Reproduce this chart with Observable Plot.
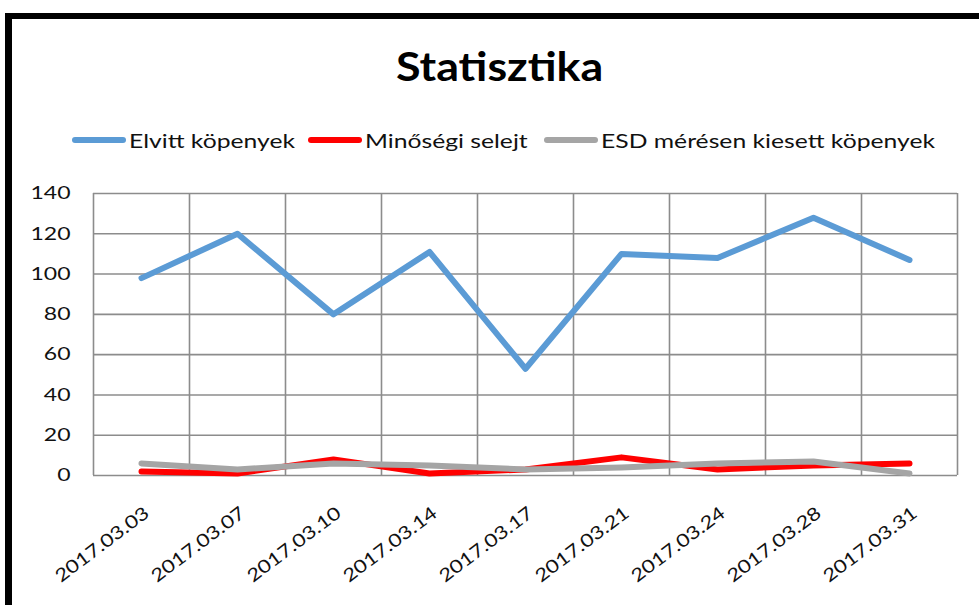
<!DOCTYPE html>
<html>
<head>
<meta charset="utf-8">
<script src="https://cdn.jsdelivr.net/npm/d3@7"></script>
<script src="https://cdn.jsdelivr.net/npm/@observablehq/plot@0.6"></script>
<style>
  html, body { margin: 0; padding: 0; background: #fff; width: 979px; height: 605px; overflow: hidden; font-family: Lato, "Open Sans", sans-serif; }
  #frame { position: absolute; left: 5px; top: 13px; width: 1100px; height: 700px; border-left: 7px solid #000; border-top: 6px solid #000; }
  #title { position: absolute; left: 0; width: 1000px; top: 42px; text-align: center; font-weight: bold; font-size: 40px; color: #000; }
  #title span { display: inline-block; transform: scaleX(1.12); }
  .leg { position: absolute; top: 128px; height: 24px; display: flex; align-items: center; font-size: 19px; color: #111; white-space: nowrap; }
  .leg .sw { width: 54px; height: 6px; border-radius: 3px; margin-right: 3px; }
  .leg .tx { display: inline-block; transform-origin: left center; transform: scaleX(1.3); }
  #plot { position: absolute; left: 0; top: 170px; }
</style>
</head>
<body>
<div id="frame"></div>
<div id="title"><span>Statisztika</span></div>
<div id="legend"></div>
<div id="plot"></div>
<script>
const dates = ["2017.03.03","2017.03.07","2017.03.10","2017.03.14","2017.03.17","2017.03.21","2017.03.24","2017.03.28","2017.03.31"];
const seriesNames = ["Elvitt köpenyek","Minőségi selejt","ESD mérésen kiesett köpenyek"];
const seriesColors = ["#5B9BD5","#FF0000","#A5A5A5"];
const elvitt = [98, 120, 80, 111, 53, 110, 108, 128, 107];
const selejt = [2, 1, 8, 1, 3, 9, 3, 5, 6];
const esd    = [6, 3, 6, 5, 3, 4, 6, 7, 1];
const yTicks = [0, 20, 40, 60, 80, 100, 120, 140];

const allSeries = [elvitt, selejt, esd];
const data = [];
allSeries.forEach((vals, s) => vals.forEach((v, i) => data.push({series: seriesNames[s], i, date: dates[i], value: v})));
const bounds = d3.range(dates.length + 1).map(k => k - 0.5);
const labelIdx = d3.range(dates.length);

// legend
const legPos = [72, 308, 544];
const legend = document.getElementById("legend");
seriesNames.forEach((n, s) => {
  const d = document.createElement("div");
  d.className = "leg";
  d.style.left = legPos[s] + "px";
  d.innerHTML = `<div class="sw" style="background:${seriesColors[s]}"></div><span class="tx">${n}</span>`;
  legend.appendChild(d);
});

const chart = Plot.plot({
  width: 979,
  height: 435,
  marginLeft: 93,
  marginRight: 22,
  marginTop: 23,
  marginBottom: 130,
  style: { fontFamily: "Lato, 'Open Sans', sans-serif", fontSize: "18px", color: "#111", background: "transparent" },
  x: { type: "linear", domain: [-0.5, dates.length - 0.5], axis: null },
  y: { domain: [0, 140], ticks: yTicks, tickSize: 0, tickPadding: 23, label: null },
  color: { domain: seriesNames, range: seriesColors },
  marks: [
    Plot.ruleY(yTicks, { stroke: "#8c8c8c", strokeWidth: 1.6 }),
    Plot.ruleX(bounds, { stroke: "#8c8c8c", strokeWidth: 1.6 }),
    Plot.text(labelIdx, { x: d => d, frameAnchor: "bottom", text: d => dates[d], rotate: -37, textAnchor: "end", dx: 9, dy: 40, fill: "#111", fontSize: 18, className: "xlab" }),
    Plot.lineY(data, { x: "i", y: "value", z: "series", stroke: "series", strokeWidth: 6, strokeLinecap: "round", strokeLinejoin: "round" })
  ]
});
document.getElementById("plot").appendChild(chart);

function stretch(sel, s) {
  d3.select(chart).selectAll(sel).each(function() {
    const el = this;
    let t = el.getAttribute("transform");
    if (!t) {
      const x = el.getAttribute("x") || 0, y = el.getAttribute("y") || 0;
      t = `translate(${x},${y})`;
      el.setAttribute("x", 0); el.setAttribute("y", 0);
    }
    el.setAttribute("transform", t + ` scale(${s},1)`);
  });
}
stretch('g[aria-label="y-axis tick label"] text', 1.28);
stretch('.xlab text', 1.22);
</script>
</body>
</html>
